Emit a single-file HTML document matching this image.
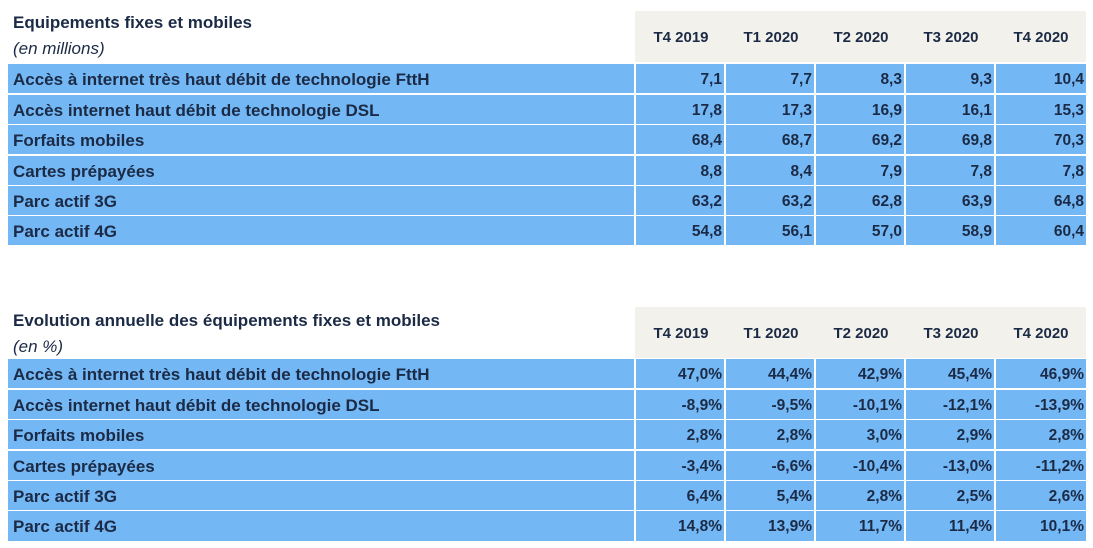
<!DOCTYPE html>
<html><head><meta charset="utf-8"><style>
body{margin:0;width:1093px;height:548px;background:#fff;position:relative;overflow:hidden;font-family:"Liberation Sans",Arial,sans-serif;color:#1b2a45;}
.t{position:absolute;left:13px;font-size:17px;font-weight:bold;}
.s{position:absolute;left:13px;font-size:17px;font-style:italic;}
.hd{position:absolute;left:635px;width:451px;height:51px;background:#f2f1eb;}
.hd span{position:absolute;top:18px;font-size:15px;font-weight:bold;width:90px;text-align:center;}
.r{position:absolute;left:8px;width:1078px;height:29px;}
.r div{position:absolute;top:0;height:100%;background:#74b7f5;font-size:17px;font-weight:bold;line-height:31px;box-sizing:border-box;}
.r .l{left:0;width:626px;padding-left:5px;}
.r .v{width:88px;text-align:right;padding-right:2px;font-size:15.5px;}
</style></head><body>
<div class="t" style="top:13px">Equipements fixes et mobiles</div>
<div class="s" style="top:39px">(en millions)</div>
<div class="hd" style="top:11px"><span style="left:1px">T4 2019</span><span style="left:91px">T1 2020</span><span style="left:181px">T2 2020</span><span style="left:271px">T3 2020</span><span style="left:361px">T4 2020</span></div>

<div class="r" style="top:64px"><div class="l">Accès à internet très haut débit de technologie FttH</div><div class="v" style="left:628px">7,1</div><div class="v" style="left:718px">7,7</div><div class="v" style="left:808px">8,3</div><div class="v" style="left:898px">9,3</div><div class="v" style="left:988px;width:90px">10,4</div></div>
<div class="r" style="top:94.5px"><div class="l">Accès internet haut débit de technologie DSL</div><div class="v" style="left:628px">17,8</div><div class="v" style="left:718px">17,3</div><div class="v" style="left:808px">16,9</div><div class="v" style="left:898px">16,1</div><div class="v" style="left:988px;width:90px">15,3</div></div>
<div class="r" style="top:125px"><div class="l">Forfaits mobiles</div><div class="v" style="left:628px">68,4</div><div class="v" style="left:718px">68,7</div><div class="v" style="left:808px">69,2</div><div class="v" style="left:898px">69,8</div><div class="v" style="left:988px;width:90px">70,3</div></div>
<div class="r" style="top:155.5px"><div class="l">Cartes prépayées</div><div class="v" style="left:628px">8,8</div><div class="v" style="left:718px">8,4</div><div class="v" style="left:808px">7,9</div><div class="v" style="left:898px">7,8</div><div class="v" style="left:988px;width:90px">7,8</div></div>
<div class="r" style="top:186px"><div class="l">Parc actif 3G</div><div class="v" style="left:628px">63,2</div><div class="v" style="left:718px">63,2</div><div class="v" style="left:808px">62,8</div><div class="v" style="left:898px">63,9</div><div class="v" style="left:988px;width:90px">64,8</div></div>
<div class="r" style="top:216px"><div class="l">Parc actif 4G</div><div class="v" style="left:628px">54,8</div><div class="v" style="left:718px">56,1</div><div class="v" style="left:808px">57,0</div><div class="v" style="left:898px">58,9</div><div class="v" style="left:988px;width:90px">60,4</div></div>

<div class="t" style="top:311px">Evolution annuelle des équipements fixes et mobiles</div>
<div class="s" style="top:337px">(en %)</div>
<div class="hd" style="top:307px"><span style="left:1px">T4 2019</span><span style="left:91px">T1 2020</span><span style="left:181px">T2 2020</span><span style="left:271px">T3 2020</span><span style="left:361px">T4 2020</span></div>

<div class="r" style="top:359px"><div class="l">Accès à internet très haut débit de technologie FttH</div><div class="v" style="left:628px">47,0%</div><div class="v" style="left:718px">44,4%</div><div class="v" style="left:808px">42,9%</div><div class="v" style="left:898px">45,4%</div><div class="v" style="left:988px;width:90px">46,9%</div></div>
<div class="r" style="top:389.5px"><div class="l">Accès internet haut débit de technologie DSL</div><div class="v" style="left:628px">-8,9%</div><div class="v" style="left:718px">-9,5%</div><div class="v" style="left:808px">-10,1%</div><div class="v" style="left:898px">-12,1%</div><div class="v" style="left:988px;width:90px">-13,9%</div></div>
<div class="r" style="top:420px"><div class="l">Forfaits mobiles</div><div class="v" style="left:628px">2,8%</div><div class="v" style="left:718px">2,8%</div><div class="v" style="left:808px">3,0%</div><div class="v" style="left:898px">2,9%</div><div class="v" style="left:988px;width:90px">2,8%</div></div>
<div class="r" style="top:450.5px"><div class="l">Cartes prépayées</div><div class="v" style="left:628px">-3,4%</div><div class="v" style="left:718px">-6,6%</div><div class="v" style="left:808px">-10,4%</div><div class="v" style="left:898px">-13,0%</div><div class="v" style="left:988px;width:90px">-11,2%</div></div>
<div class="r" style="top:481px"><div class="l">Parc actif 3G</div><div class="v" style="left:628px">6,4%</div><div class="v" style="left:718px">5,4%</div><div class="v" style="left:808px">2,8%</div><div class="v" style="left:898px">2,5%</div><div class="v" style="left:988px;width:90px">2,6%</div></div>
<div class="r" style="top:511px;height:30px"><div class="l">Parc actif 4G</div><div class="v" style="left:628px">14,8%</div><div class="v" style="left:718px">13,9%</div><div class="v" style="left:808px">11,7%</div><div class="v" style="left:898px">11,4%</div><div class="v" style="left:988px;width:90px">10,1%</div></div>
</body></html>
